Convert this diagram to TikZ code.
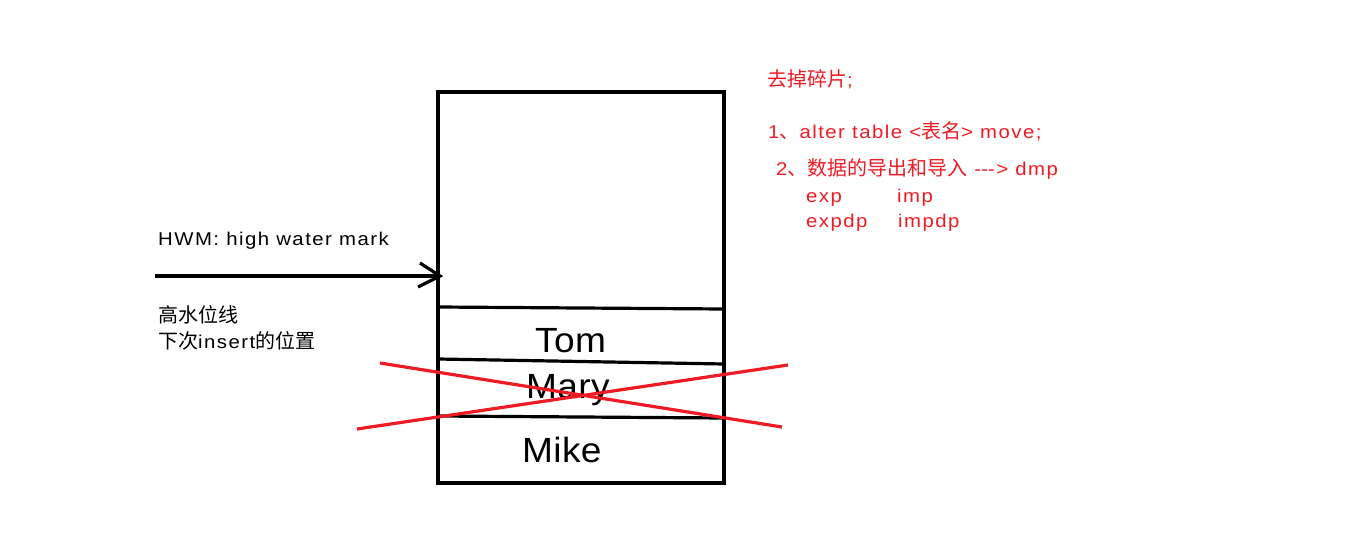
\documentclass[tikz,border=0pt]{standalone}
\usepackage{fontspec}
\setmainfont{Liberation Sans}
\newfontfamily\smallfont{Liberation Sans}[FakeStretch=1.1,LetterSpace=8]
\newfontfamily\bigfont{Liberation Sans}[FakeStretch=1.06,LetterSpace=1]
\newfontfamily\cjk{Noto Sans CJK SC}[Scale=1.08]
\definecolor{mspred}{RGB}{237,28,36}
\begin{document}
\begin{tikzpicture}[x=1pt,y=-1pt,
  thickline/.style={line width=3.2pt},
  redline/.style={line width=3.2pt,draw=mspred},
  small/.style={inner sep=0pt,anchor=base west,font=\fontsize{18.5}{22}\smallfont},
  redtxt/.style={small,text=mspred},
  rowtxt/.style={inner sep=0pt,anchor=base west,font=\fontsize{35}{40}\bigfont}]
\useasboundingbox[fill=white] (0,0) rectangle (1350,546);
% table box
\coordinate (tl) at (438,92);
\coordinate (br) at (724,483);
\draw[thickline] (tl) rectangle (br);
\coordinate (r1l) at (438,307); \coordinate (r1r) at (724,309);
\coordinate (r2l) at (438,359); \coordinate (r2r) at (724,364);
\coordinate (r3l) at (438,416); \coordinate (r3r) at (724,418);
\draw[thickline] (r1l) -- (r1r);
\draw[thickline] (r2l) -- (r2r);
\draw[thickline] (r3l) -- (r3r);
% rows
\node[rowtxt] (tom) at (535,352) {Tom};
\node[rowtxt] (mary) at (526,398) {Mary};
\node[rowtxt] (mike) at (522,462) {Mike};
% HWM arrow
\coordinate (hs) at (155,276);
\coordinate (he) at (440,276);
\coordinate (ha) at (420,263);
\coordinate (hb) at (418,287);
\draw[thickline] (hs) -- (he);
\draw[thickline] (ha) -- (he) -- (hb);
\node[small] (hwm) at (158,245) {HWM: high water mark};
\node[small] (hwl1) at (158,322) {\cjk 高水位线};
\node[small] (hwl2) at (158,348) {{\cjk 下次}insert{\cjk 的位置}};
% crossing red lines
\coordinate (a1) at (380,363); \coordinate (a2) at (782,427);
\coordinate (b1) at (357,429); \coordinate (b2) at (788,365);
\draw[redline] (a1) -- (a2);
\draw[redline] (b1) -- (b2);
% red notes
\node[redtxt] (t0) at (767,86) {{\cjk 去掉碎片}; };
\node[redtxt] (t1) at (768,138) {1{\cjk 、}alter table <{\cjk 表名}> move;};
\node[redtxt] (t2) at (776,175) {2{\cjk 、数据的导出和导入} -\kern0pt-\kern0pt-> dmp};
\node[redtxt] (t3a) at (806,202) {exp};
\node[redtxt] (t3b) at (897,202) {imp};
\node[redtxt] (t4a) at (806,227) {expdp};
\node[redtxt] (t4b) at (898,227) {impdp};
\end{tikzpicture}
\end{document}
